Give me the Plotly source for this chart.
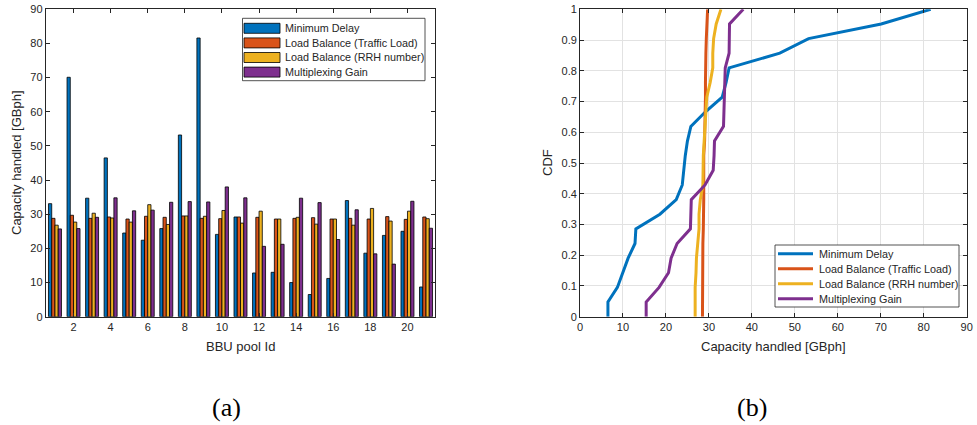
import numpy as np
import plotly.graph_objects as go

# ---- data -------------------------------------------------------------
pool_ids = list(range(1, 22))

series_names = [
    "Minimum Delay",
    "Load Balance (Traffic Load)",
    "Load Balance (RRH number)",
    "Multiplexing Gain",
]
series_colors = ["#0072BD", "#D95319", "#EDB120", "#7E2F8E"]

# capacity handled by each BBU pool [GBph]
minimum_delay = [33.1, 70.1, 34.7, 46.5, 24.5, 22.4, 25.8, 53.2, 81.6, 24.1, 29.2,
                 12.8, 13.0, 10.0, 6.5, 11.2, 34.0, 18.6, 23.8, 25.0, 8.7]
load_balance_traffic = [28.8, 29.7, 28.8, 29.2, 28.6, 29.4, 29.1, 29.5, 28.8, 28.7, 29.2,
                        29.1, 28.6, 28.8, 29.0, 28.6, 28.8, 28.6, 29.3, 28.5, 29.2]
load_balance_rrh = [26.8, 27.7, 30.3, 28.9, 27.7, 32.8, 27.0, 29.5, 29.4, 31.1, 27.4,
                    30.9, 28.6, 29.1, 27.1, 28.6, 26.8, 31.7, 28.0, 30.9, 28.7]
multiplexing_gain = [25.7, 25.8, 29.1, 34.8, 31.0, 31.2, 33.5, 33.7, 33.6, 38.0, 34.8,
                     20.6, 21.2, 34.7, 33.4, 22.6, 31.3, 18.4, 15.4, 33.8, 25.9]

series_values = [minimum_delay, load_balance_traffic, load_balance_rrh, multiplexing_gain]

bar_ticks = list(range(2, 21, 2))
cap_ticks = list(range(0, 91, 10))
cdf_ticks = [round(0.1 * k, 1) for k in range(11)]

# ---- layout helpers (window pixel -> paper) -----------------------------
W, H = 977, 425
def px(x):
    return x / W
def py(y):
    return 1 - y / H

AX_A = (45.7, 435.3)
AX_B = (580.0, 966.7)
AX_Y = (9.3, 316.7)          # top, bottom
INK = "#262626"
FONT = "Liberation Sans, Arial, sans-serif"

fig = go.Figure()

# (a) grouped bars per BBU pool
for name, color, vals in zip(series_names, series_colors, series_values):
    fig.add_trace(go.Bar(
        x=pool_ids, y=vals, name=name,
        marker=dict(color=color, line=dict(color="#000000", width=0.8)),
        xaxis="x", yaxis="y", showlegend=False,
    ))

# (b) empirical CDF of the same capacities
for name, color, vals in zip(series_names, series_colors, series_values):
    xs = np.sort(np.asarray(vals, dtype=float))
    n = len(xs)
    cdf_x = np.concatenate([[xs[0]], xs])
    cdf_y = np.concatenate([[0.0], np.arange(1, n + 1) / n])
    fig.add_trace(go.Scatter(
        x=cdf_x, y=cdf_y, mode="lines", name=name,
        line=dict(color=color, width=3),
        xaxis="x2", yaxis="y2", showlegend=False,
    ))

axis_common = dict(
    showline=True, linecolor=INK, linewidth=0.8, mirror="ticks",
    ticks="inside", ticklen=4, tickwidth=0.8, tickcolor=INK,
    zeroline=False, tickfont=dict(family=FONT, size=11, color=INK),
    fixedrange=True, automargin=False,
)

fig.update_layout(
    width=W, height=H,
    margin=dict(l=0, r=0, t=0, b=0, pad=0),
    paper_bgcolor="white", plot_bgcolor="white",
    barmode="group", bargap=0.3, bargroupgap=0.0,
    font=dict(family=FONT, color=INK),
    showlegend=False,
    xaxis=dict(domain=[px(AX_A[0]), px(AX_A[1])], range=[0.5, 21.5],
               tickvals=bar_ticks, showgrid=False, anchor="y", **axis_common),
    yaxis=dict(domain=[py(AX_Y[1]), py(AX_Y[0])], range=[0, 90],
               tickvals=cap_ticks, showgrid=False, anchor="x", **axis_common),
    xaxis2=dict(domain=[px(AX_B[0]), px(AX_B[1])], range=[0, 90],
                tickvals=cap_ticks, showgrid=True, gridcolor="#E2E2E2", gridwidth=1,
                anchor="y2", **axis_common),
    yaxis2=dict(domain=[py(AX_Y[1]), py(AX_Y[0])], range=[0, 1],
                tickvals=cdf_ticks, ticktext=[f"{v:g}" for v in cdf_ticks],
                showgrid=True, gridcolor="#E2E2E2", gridwidth=1,
                anchor="x2", **axis_common),
)

annotations = []
shapes = []

def label(text, x, y, size=13, angle=0, xanchor="center", family=FONT, color=INK):
    annotations.append(dict(
        text=text, x=px(x), y=py(y), xref="paper", yref="paper",
        showarrow=False, xanchor=xanchor, yanchor="middle", textangle=angle,
        font=dict(family=family, size=size, color=color),
    ))

# axis titles
label("BBU pool Id", (AX_A[0] + AX_A[1]) / 2, 346.7)
label("Capacity handled [GBph]", 16, (AX_Y[0] + AX_Y[1]) / 2, angle=-90)
label("Capacity handled [GBph]", (AX_B[0] + AX_B[1]) / 2, 346.7)
label("CDF", 547, (AX_Y[0] + AX_Y[1]) / 2, angle=-90)

# panel captions
serif = "Liberation Serif, Times New Roman, serif"
label("(a)", 226, 407, size=26, family=serif, color="#000000")
label("(b)", 752, 407, size=26, family=serif, color="#000000")

# legend of panel (a): filled patches
shapes.append(dict(type="rect", xref="paper", yref="paper",
                   x0=px(242.5), x1=px(425), y0=py(80.7), y1=py(18.3),
                   line=dict(color=INK, width=0.8), fillcolor="white", layer="above"))
rows_a = [28.3, 42.9, 57.5, 72.1]
for name, color, yc in zip(series_names, series_colors, rows_a):
    shapes.append(dict(type="rect", xref="paper", yref="paper",
                       x0=px(244), x1=px(280), y0=py(yc + 5), y1=py(yc - 5),
                       line=dict(color="#000000", width=0.8), fillcolor=color, layer="above"))
    label(name, 282.5, yc, size=10.8, xanchor="left")

# legend of panel (b): line samples
shapes.append(dict(type="rect", xref="paper", yref="paper",
                   x0=px(775), x1=px(959), y0=py(307), y1=py(245),
                   line=dict(color=INK, width=0.8), fillcolor="white", layer="above"))
rows_b = [253.7, 268.7, 283.7, 298.7]
for name, color, yc in zip(series_names, series_colors, rows_b):
    shapes.append(dict(type="line", xref="paper", yref="paper",
                       x0=px(778), x1=px(813), y0=py(yc), y1=py(yc),
                       line=dict(color=color, width=3), layer="above"))
    label(name, 816.5, yc, size=10.8, xanchor="left")

fig.update_layout(annotations=annotations, shapes=shapes)

fig.write_html("out.html")
